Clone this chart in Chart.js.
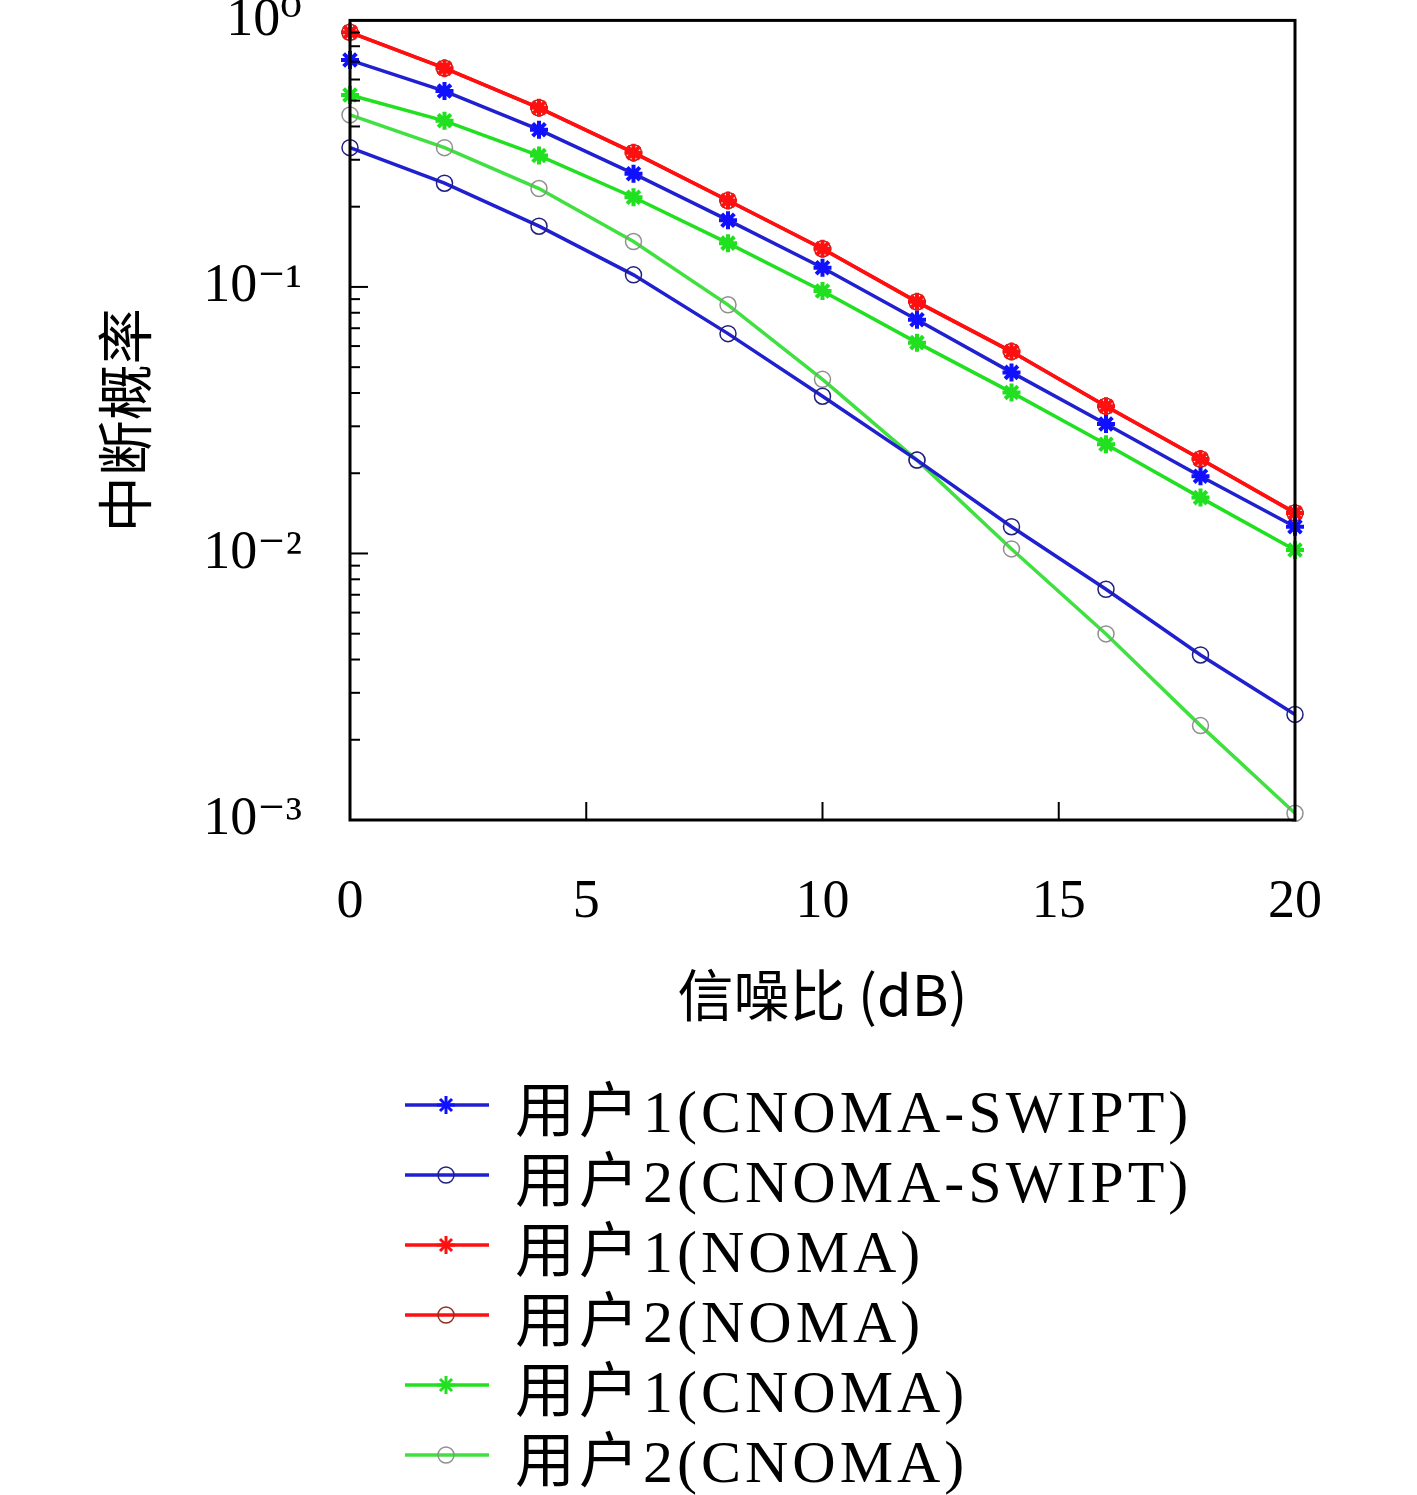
<!DOCTYPE html>
<html>
<head>
<meta charset="utf-8">
<script src="https://cdn.jsdelivr.net/npm/chart.js@4/dist/chart.umd.min.js"></script>
<style>
  body { margin: 0; background: #fff; width: 1417px; height: 1495px; overflow: hidden; }
  #wrap { position: absolute; left: 0; top: -60px; width: 1417px; height: 1110px; }
  #legend { position: absolute; left: 405px; top: 1070px; font-family: "Liberation Serif", "Noto Sans CJK SC", serif; font-size: 60px; letter-spacing: 4px; }
  .item { height: 70px; display: flex; align-items: center; }
  .item svg { margin-right: 26px; }
</style>
</head>
<body>
<div id="wrap"><canvas id="c" width="1417" height="1110"></canvas></div>
<div id="legend"></div>
<script>
const snr = [0, 2, 4, 6, 8, 10, 12, 14, 16, 18, 20];
const u1Swipt = [0.71, 0.543, 0.389, 0.266, 0.178, 0.118, 0.0753, 0.0478, 0.0306, 0.0195, 0.0126];
const u2Swipt = [0.333, 0.245, 0.169, 0.111, 0.0668, 0.0389, 0.0224, 0.0126, 0.00734, 0.00416, 0.00249];
const u1Noma = [0.902, 0.662, 0.47, 0.319, 0.211, 0.139, 0.0879, 0.0572, 0.0357, 0.0226, 0.0142];
const u2Noma = [0.902, 0.662, 0.47, 0.319, 0.211, 0.139, 0.0879, 0.0572, 0.0357, 0.0226, 0.0142];
const u1Cnoma = [0.525, 0.42, 0.311, 0.217, 0.146, 0.0966, 0.0618, 0.0402, 0.0257, 0.0162, 0.0103];
const u2Cnoma = [0.442, 0.333, 0.234, 0.148, 0.0857, 0.045, 0.0224, 0.0104, 0.00499, 0.00226, 0.00106];
const labels = ['用户1(CNOMA-SWIPT)', '用户2(CNOMA-SWIPT)', '用户1(NOMA)', '用户2(NOMA)', '用户1(CNOMA)', '用户2(CNOMA)'];
const xTicks = [0, 5, 10, 15, 20];
const yTicks = ['10⁰', '10⁻¹', '10⁻²', '10⁻³'];

const serif = '"Liberation Serif", "DejaVu Serif", serif';

function ds(label, data, color, marker, markerColor) {
  return {
    label, data: data.map((v, i) => ({ x: snr[i], y: v })),
    borderColor: color, borderWidth: 3.5,
    pointStyle: marker, pointRadius: marker === 'star' ? 9 : 8,
    pointBorderColor: markerColor, pointBackgroundColor: 'rgba(0,0,0,0)',
    pointBorderWidth: marker === 'star' ? 4 : 1.5,
    tension: 0, clip: false
  };
}
const datasets = [
  ds(labels[0], u1Swipt, '#2020d0', 'star', '#1010ff'),
  ds(labels[1], u2Swipt, '#2020d0', 'circle', '#202080'),
  ds(labels[2], u1Noma, '#ff1010', 'star', '#ff1010'),
  ds(labels[3], u2Noma, '#ff1010', 'circle', '#903020'),
  ds(labels[4], u1Cnoma, '#20e020', 'star', '#20e020'),
  ds(labels[5], u2Cnoma, '#40e040', 'circle', '#909090')
];

const frame = {
  id: 'frame',
  afterDraw(chart) {
    const { ctx, chartArea: a, scales: { x, y } } = chart;
    ctx.save();
    ctx.strokeStyle = '#000';
    ctx.lineWidth = 3;
    ctx.strokeRect(a.left, a.top, a.right - a.left, a.bottom - a.top);
    ctx.lineWidth = 2;
    xTicks.forEach(t => {
      const px = x.getPixelForValue(t);
      ctx.beginPath(); ctx.moveTo(px, a.bottom); ctx.lineTo(px, a.bottom - 18); ctx.stroke();
    });
    for (let e = -3; e < 0; e++) {
      for (let m = 1; m < 10; m++) {
        const py = y.getPixelForValue(m * Math.pow(10, e));
        const len = m === 1 ? 18 : 10;
        ctx.beginPath(); ctx.moveTo(a.left, py); ctx.lineTo(a.left + len, py); ctx.stroke();
      }
    }
    ctx.fillStyle = '#000';
    ctx.font = '56px "Noto Sans CJK SC", ' + serif;
    ctx.textAlign = 'center';
    ctx.textBaseline = 'middle';
    ctx.fillText('信噪比 (dB)', (a.left + a.right) / 2, a.bottom + 175);
    ctx.translate(125, (a.top + a.bottom) / 2);
    ctx.rotate(-Math.PI / 2);
    ctx.fillText('中断概率', 0, 0);
    ctx.restore();
  }
};

new Chart(document.getElementById('c'), {
  type: 'line',
  data: { datasets },
  options: {
    responsive: false, animation: false,
    layout: { padding: { top: 20, right: 122, left: 0, bottom: 0 } },
    plugins: { legend: { display: false }, tooltip: { enabled: false } },
    scales: {
      x: {
        type: 'linear', min: 0, max: 20,
        afterBuildTicks: s => { s.ticks = xTicks.map(v => ({ value: v })); },
        afterFit: s => { s.height = 230; },
        grid: { display: false, drawTicks: false },
        border: { display: false },
        ticks: { color: '#000', padding: 50, font: { family: serif, size: 54 } }
      },
      y: {
        type: 'logarithmic', min: 0.001, max: 1,
        afterBuildTicks: s => { s.ticks = [1, 0.1, 0.01, 0.001].map(v => ({ value: v })); },
        afterFit: s => { s.width = 350; },
        grid: { display: false, drawTicks: false },
        border: { display: false },
        ticks: {
          color: '#000', padding: 48, font: { family: serif, size: 54 },
          callback: v => yTicks[Math.round(-Math.log10(v))]
        }
      }
    }
  },
  plugins: [frame]
});

const legend = document.getElementById('legend');
datasets.forEach(d => {
  const star = d.pointStyle === 'star';
  const mk = star
    ? `<g stroke="${d.pointBorderColor}" stroke-width="3"><line x1="35" y1="11" x2="47" y2="23"/><line x1="47" y1="11" x2="35" y2="23"/><line x1="41" y1="8" x2="41" y2="26"/><line x1="32" y1="17" x2="50" y2="17"/></g>`
    : `<circle cx="41" cy="17" r="8" fill="none" stroke="${d.pointBorderColor}" stroke-width="1.5"/>`;
  legend.insertAdjacentHTML('beforeend',
    `<div class="item"><svg width="84" height="34"><line x1="0" y1="17" x2="84" y2="17" stroke="${d.borderColor}" stroke-width="3.5"/>${mk}</svg><span>${d.label}</span></div>`);
});
</script>
</body>
</html>
